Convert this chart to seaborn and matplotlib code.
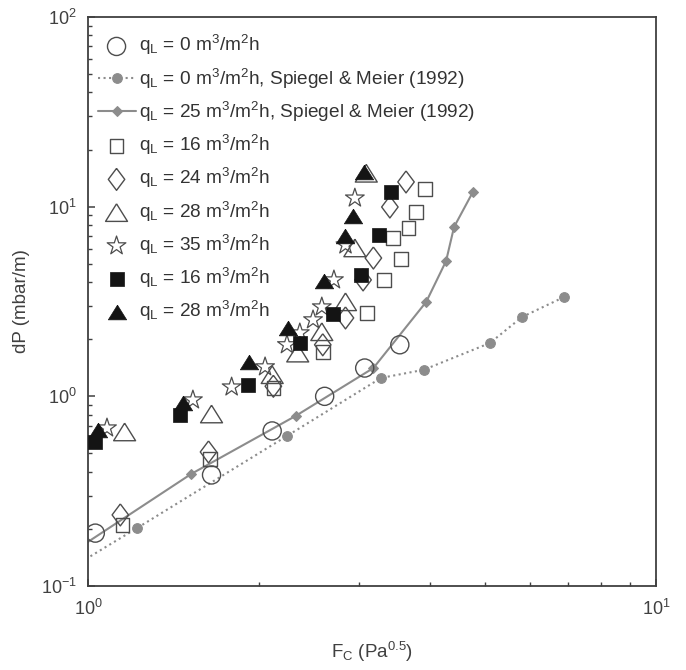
import matplotlib
matplotlib.use("Agg")
import pandas as pd
import matplotlib.pyplot as plt
import matplotlib.ticker as mticker
import seaborn as sns

# --- datos (F_C en Pa^0.5, dP en mbar/m) ---
fc_q0 = [1.03, 1.65, 2.11, 2.61, 3.07, 3.54]
dp_q0 = [0.190, 0.385, 0.657, 1.00, 1.41, 1.87]

fc_sm0 = [0.85, 1.22, 2.24, 3.28, 3.90, 5.10, 5.81, 6.89]
dp_sm0 = [0.105, 0.202, 0.618, 1.25, 1.38, 1.91, 2.62, 3.34]

fc_sm25 = [0.92, 1.52, 2.32, 3.18, 3.94, 4.27, 4.41, 4.76]
dp_sm25 = [0.145, 0.390, 0.788, 1.41, 3.15, 5.17, 7.81, 11.95]

fc_q16 = [1.15, 1.64, 2.12, 2.59, 3.10, 3.32, 3.56, 3.44, 3.67, 3.78, 3.92]
dp_q16 = [0.210, 0.468, 1.11, 1.71, 2.75, 4.11, 5.30, 6.84, 7.72, 9.38, 12.4]

fc_q24 = [1.14, 1.63, 2.12, 2.59, 2.84, 3.05, 3.18, 3.40, 3.63]
dp_q24 = [0.237, 0.509, 1.13, 1.87, 2.59, 4.11, 5.36, 9.96, 13.5]

fc_q28 = [1.16, 1.65, 2.11, 2.34, 2.58, 2.84, 2.95, 3.09]
dp_q28 = [0.649, 0.807, 1.30, 1.69, 2.19, 3.15, 6.06, 15.0]

fc_q35 = [1.08, 1.53, 1.79, 2.05, 2.24, 2.36, 2.49, 2.58, 2.71, 2.84, 2.95]
dp_q35 = [0.681, 0.957, 1.12, 1.43, 1.87, 2.16, 2.53, 2.96, 4.11, 6.28, 11.1]

fc_q16b = [1.03, 1.45, 1.91, 2.36, 2.70, 3.02, 3.25, 3.42]
dp_q16b = [0.575, 0.797, 1.15, 1.91, 2.72, 4.36, 7.09, 11.95]

fc_q28b = [1.04, 1.47, 1.92, 2.25, 2.60, 2.84, 2.93, 3.06]
dp_q28b = [0.665, 0.923, 1.52, 2.29, 4.06, 7.00, 8.93, 15.2]

etiqueta = r'q$_\mathrm{L}$ = %s m$^3$/m$^2$h'

sns.set_style('ticks')
plt.rcParams['font.family'] = ['Liberation Sans', 'DejaVu Sans']
plt.rcParams['mathtext.fontset'] = 'custom'
plt.rcParams['mathtext.rm'] = 'Liberation Sans'
plt.rcParams['mathtext.it'] = 'Liberation Sans:italic'
plt.rcParams['mathtext.default'] = 'regular'

fig = plt.figure(figsize=(6.86, 6.70), dpi=100)
ax = fig.add_axes([88 / 686, 1 - 586 / 670, 568 / 686, 569 / 670])

# marcadores propios (cerrados): triangulo ancho y rombo alto
tri = [(0, 0.8), (1, -0.8), (-1, -0.8), (0, 0.8)]
rombo = [(0, 1), (0.75, 0), (0, -1), (-0.75, 0), (0, 1)]
gris_borde = '0.3'

sns.scatterplot(x=fc_q0, y=dp_q0, ax=ax, marker='o', s=170, facecolor='none',
                edgecolor=gris_borde, linewidth=1.0, label=etiqueta % '0', zorder=3)
sns.lineplot(x=fc_sm0, y=dp_sm0, ax=ax, color='0.55', linestyle=':', linewidth=1.5,
             marker='o', markersize=7, markeredgecolor='0.55',
             label=etiqueta % '0' + ', Spiegel & Meier (1992)', zorder=2)
sns.lineplot(x=fc_sm25, y=dp_sm25, ax=ax, color='0.55', linestyle='-', linewidth=1.5,
             marker='D', markersize=5.5, markeredgecolor='0.55',
             label=etiqueta % '25' + ', Spiegel & Meier (1992)', zorder=2)
sns.scatterplot(x=fc_q16, y=dp_q16, ax=ax, marker='s', s=95, facecolor='none',
                edgecolor=gris_borde, linewidth=1.0, label=etiqueta % '16', zorder=3)
sns.scatterplot(x=fc_q24, y=dp_q24, ax=ax, marker=rombo, s=250, facecolor='none',
                edgecolor=gris_borde, linewidth=1.0, label=etiqueta % '24', zorder=3)
sns.scatterplot(x=fc_q28, y=dp_q28, ax=ax, marker=tri, s=250, facecolor='none',
                edgecolor=gris_borde, linewidth=1.0, label=etiqueta % '28', zorder=3)
sns.scatterplot(x=fc_q35, y=dp_q35, ax=ax, marker='*', s=200, facecolor='none',
                edgecolor=gris_borde, linewidth=0.9, label=etiqueta % '35', zorder=3)
sns.scatterplot(x=fc_q16b, y=dp_q16b, ax=ax, marker='s', s=115, color='0.08',
                edgecolor='0.08', linewidth=0.5, label=etiqueta % '16', zorder=4)
sns.scatterplot(x=fc_q28b, y=dp_q28b, ax=ax, marker=tri, s=175, color='0.08',
                edgecolor='0.08', linewidth=0.5, label=etiqueta % '28', zorder=4)

ax.set_xscale('log')
ax.set_yscale('log')
ax.set_xlim(1, 10)
ax.set_ylim(0.1, 100)
ax.xaxis.set_minor_formatter(mticker.NullFormatter())
ax.yaxis.set_minor_formatter(mticker.NullFormatter())

for lado in ['top', 'right', 'bottom', 'left']:
    ax.spines[lado].set_visible(True)
    ax.spines[lado].set_color('0.25')
    ax.spines[lado].set_linewidth(1.3)

ax.tick_params(which='both', direction='in', colors='0.25', labelcolor='0.25',
               labelsize=13, top=False, right=False)
ax.tick_params(which='major', length=5, width=1.1)
ax.tick_params(which='minor', length=3, width=1.0)
ax.tick_params(axis='x', pad=9)
ax.tick_params(axis='y', pad=8)

ax.set_xlabel(r'F$_\mathrm{C}$ (Pa$^{0.5}$)', fontsize=13.5, color='0.25', labelpad=15)
ax.set_ylabel('dP (mbar/m)', fontsize=13.5, color='0.25', labelpad=8)

ax.legend(loc='upper left', bbox_to_anchor=(0, 0.988), frameon=False, fontsize=13.7,
          handlelength=2.0, handletextpad=0.2, labelspacing=0.48, borderaxespad=0.3,
          borderpad=0.2, labelcolor='0.2')

fig.savefig('out.png', dpi=100)
